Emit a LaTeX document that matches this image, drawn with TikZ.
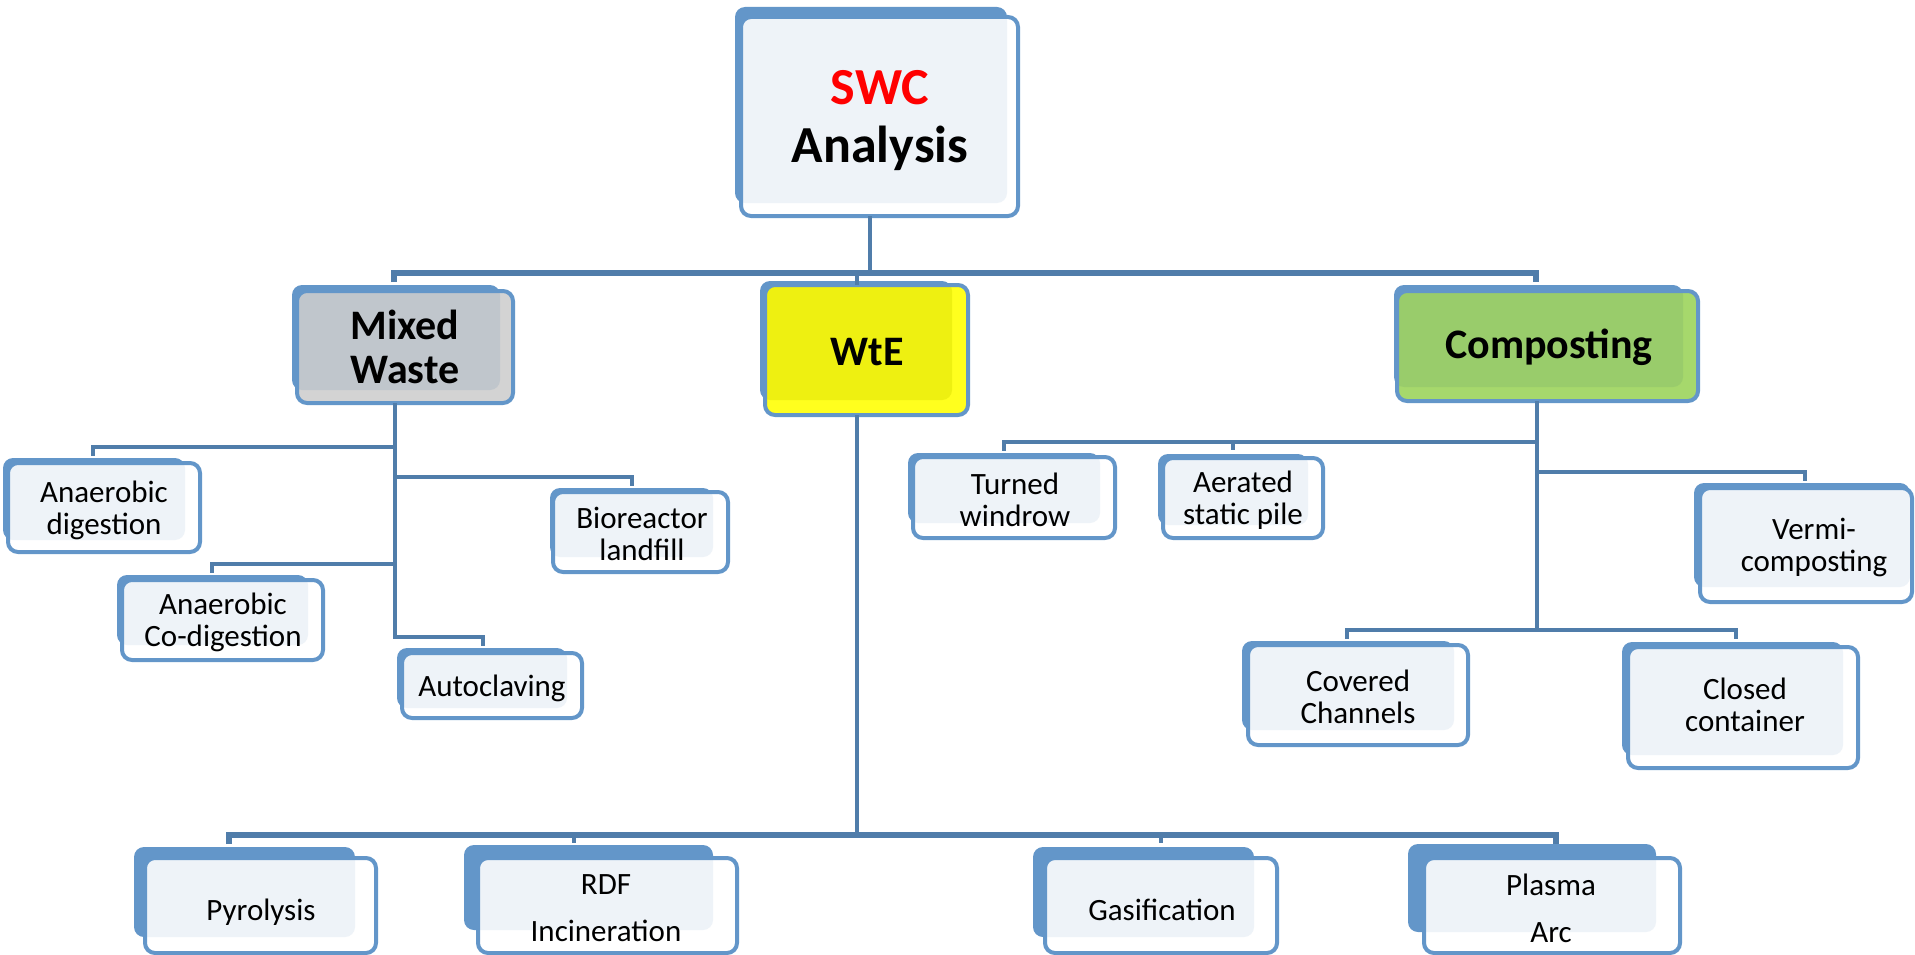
\documentclass[tikz,border=0pt]{standalone}
\usepackage{fontspec}
\setmainfont{Carlito}
\usetikzlibrary{fit,calc}
\definecolor{bblue}{HTML}{6396C9}
\definecolor{cblue}{HTML}{507DAA}
\definecolor{lfill}{HTML}{EEF3F8}
\definecolor{mwfront}{HTML}{D3D3D3}
\definecolor{mwin}{HTML}{C0C6CC}
\definecolor{wtefront}{HTML}{FFFF1E}
\definecolor{wtein}{HTML}{EEF011}
\definecolor{cofront}{HTML}{A6D86C}
\definecolor{coin}{HTML}{99CC6B}
\definecolor{swcred}{HTML}{FF0000}
\newcommand\drawbox[7]{%
  \fill[bblue, rounded corners=10pt] (#2) rectangle (#3);
  \fill[#6, rounded corners=10pt] (#4) rectangle (#5);
  \begin{scope}
    \clip[rounded corners=10pt] (#4) rectangle (#5);
    \fill[#7, rounded corners=10pt] (#2) rectangle (#3);
  \end{scope}
  \draw[bblue, line width=4pt, rounded corners=10pt] (#4) rectangle (#5);
  \node[inner sep=0pt, fit={(#4) (#5)}] (#1) {};
}
\tikzset{
  conn/.style={draw=cblue, line width=4.5pt, line join=miter},
  bus/.style={draw=cblue, line width=5.5pt, line join=miter},
  roottext/.style={font=\fontsize{52}{58}\selectfont\bfseries, align=center, inner sep=0pt},
  midtext/.style={font=\fontsize{42}{44}\selectfont\bfseries, align=center, inner sep=0pt},
  leaftext/.style={font=\fontsize{31}{32}\selectfont, align=center, inner sep=0pt},
  widetext/.style={font=\fontsize{31}{47}\selectfont, align=center, inner sep=0pt}
}
\begin{document}
\begin{tikzpicture}[x=1pt, y=-1pt]
\useasboundingbox (0,0) rectangle (1915,955);
% boxes
\drawbox{root}{735,7}{1007,203}{741,17}{1018,216}{white}{lfill}
\drawbox{mw}{292,285}{500,390}{297,291}{513,403}{mwfront}{mwin}
\drawbox{wte}{760,281}{952,400}{765,285}{968,415}{wtefront}{wtein}
\drawbox{comp}{1394,285}{1683,387}{1397,291}{1698,401}{cofront}{coin}
\drawbox{andig}{3,458}{185,540}{8,463}{200,552}{white}{lfill}
\drawbox{anco}{117,575}{308,645}{122,580}{323,660}{white}{lfill}
\drawbox{bior}{550,488}{713,557}{553,492}{728,572}{white}{lfill}
\drawbox{auto}{397,648}{567,708}{402,653}{582,718}{white}{lfill}
\drawbox{turn}{908,453}{1100,523}{913,457}{1115,538}{white}{lfill}
\drawbox{aer}{1158,454}{1308,525}{1163,458}{1323,538}{white}{lfill}
\drawbox{verm}{1694,483}{1910,587}{1700,488}{1912,602}{white}{lfill}
\drawbox{cov}{1242,641}{1454,730}{1248,645}{1468,745}{white}{lfill}
\drawbox{clos}{1622,642}{1843,755}{1628,647}{1858,768}{white}{lfill}
\drawbox{pyro}{134,847}{355,937}{145,858}{376,953}{white}{lfill}
\drawbox{rdf}{464,845}{713,930}{478,858}{737,953}{white}{lfill}
\drawbox{gas}{1033,847}{1254,937}{1045,858}{1277,953}{white}{lfill}
\drawbox{plas}{1408,844}{1656,932}{1424,858}{1680,953}{white}{lfill}
% texts
\node[roottext] (troot) at (880,121) {\textcolor{swcred}{SWC}\\Analysis};
\node[midtext] (tmw) at (405,347) {Mixed\\Waste};
\node[midtext] (twte) at (867,352) {WtE};
\node[midtext] (tcomp) at (1549,347) {Composting};
\node[leaftext] (tandig) at (104,510) {Anaerobic\\digestion};
\node[leaftext] (tanco) at (223,622) {Anaerobic\\Co-digestion};
\node[leaftext] (tbior) at (642,534) {Bioreactor\\landfill};
\node[leaftext] (tauto) at (492,688) {Autoclaving};
\node[leaftext] (tturn) at (1015,500) {Turned\\windrow};
\node[leaftext] (taer) at (1243,500) {Aerated\\static pile};
\node[leaftext] (tverm) at (1814,547) {Vermi-\\composting};
\node[leaftext] (tcov) at (1358,697) {Covered\\Channels};
\node[leaftext] (tclos) at (1745,705) {Closed\\container};
\node[leaftext] (tpyro) at (261,912) {Pyrolysis};
\node[widetext] (trdf) at (606,908) {RDF\\Incineration};
\node[leaftext] (tgas) at (1162,910) {Gasification};
\node[widetext] (tplas) at (1551,908) {Plasma\\Arc};
% junction coordinates
\coordinate (jroot) at (870,273);
\coordinate (busL) at (394,273);
\coordinate (busR) at (1536,273);
\coordinate (jwte) at (857,273);
\coordinate (mwEnd) at (395,637);
\coordinate (jad) at (395,447);
\coordinate (ead) at (93,447);
\coordinate (jco) at (395,564);
\coordinate (eco) at (212,564);
\coordinate (jbi) at (395,477);
\coordinate (ebi) at (632,477);
\coordinate (eau) at (483,637);
\coordinate (wteEnd) at (857,835);
\coordinate (bL) at (229,835);
\coordinate (bR) at (1556,835);
\coordinate (bRdf) at (574,835);
\coordinate (bGas) at (1161,835);
\coordinate (coEnd) at (1537,630);
\coordinate (jtu) at (1537,442);
\coordinate (etu) at (1004,442);
\coordinate (eae) at (1233,442);
\coordinate (jve) at (1537,472);
\coordinate (eve) at (1805,472);
\coordinate (ecl) at (1736,630);
\coordinate (ecv) at (1347,630);
% connectors
\draw[conn] (root.south -| jroot) -- (jroot);
\draw[bus] ($(busL)+(0,9)$) -- (busL) -- (busR) -- ++(0,9);
\draw[conn] (jwte) -- (wte.north -| jwte);
\draw[conn] (mw.south -| mwEnd) -- (mwEnd) -- (eau) -- ++(0,9);
\draw[conn] (jad) -- (ead) -- ++(0,9);
\draw[conn] (jco) -- (eco) -- ++(0,9);
\draw[conn] (jbi) -- (ebi) -- ++(0,9);
\draw[conn] (wte.south -| wteEnd) -- (wteEnd);
\draw[bus] ($(bL)+(0,9)$) -- (bL) -- (bR) -- ++(0,9);
\draw[conn] (bRdf) -- ++(0,8);
\draw[conn] (bGas) -- ++(0,8);
\draw[conn] (comp.south -| coEnd) -- (coEnd);
\draw[conn] (jtu) -- (etu) -- ++(0,9);
\draw[conn] (eae) -- ++(0,8);
\draw[conn] (jve) -- (eve) -- ++(0,9);
\draw[conn] ($(ecv)+(0,9)$) -- (ecv) -- (ecl) -- ++(0,9);
\end{tikzpicture}
\end{document}
